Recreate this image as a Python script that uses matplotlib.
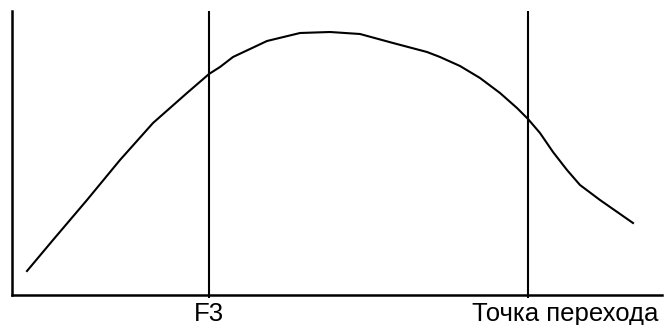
import matplotlib
matplotlib.use("Agg")
import matplotlib.pyplot as plt
import matplotlib.transforms as mtransforms

# curve samples (x position, value)
curve_x = [15, 41, 75, 108, 141, 175, 197, 208, 221, 255, 288, 318, 348, 381,
           415, 428, 448, 468, 488, 505, 516, 528, 541, 555, 568, 588, 621]
curve_y = [24, 55, 95, 135, 172, 202, 221, 228, 238, 254, 262, 263, 261, 252,
           243, 238, 229, 217, 202, 187, 176, 162, 143, 125, 110, 95, 72]

tick_pos = [197, 515.5]
tick_labels = ["F3", "Точка перехода"]

plt.rcParams['font.family'] = ['Liberation Sans', 'DejaVu Sans']

fig = plt.figure(figsize=(6.66, 3.25), dpi=100)
ax = fig.add_axes([12/666, 30/325, 650/666, 284/325])
ax.plot(curve_x, curve_y, color='black', lw=1.5, solid_joinstyle='round')
for t in tick_pos:
    ax.axvline(t, color='black', lw=1.5)
ax.set_xlim(0, 650)
ax.set_ylim(0, 284)
ax.spines['top'].set_visible(False)
ax.spines['right'].set_visible(False)
ax.spines['left'].set_linewidth(1.8)
ax.spines['bottom'].set_linewidth(1.8)
ax.set_yticks([])
ax.set_xticks(tick_pos)
ax.set_xticklabels(tick_labels, fontsize=18.5)
ax.tick_params(axis='x', length=2, width=1.5, pad=3)
lbl = ax.get_xticklabels()[1]
lbl.set_transform(lbl.get_transform() + mtransforms.ScaledTranslation(38/100, 0, fig.dpi_scale_trans))
fig.savefig("out.png", dpi=100)
